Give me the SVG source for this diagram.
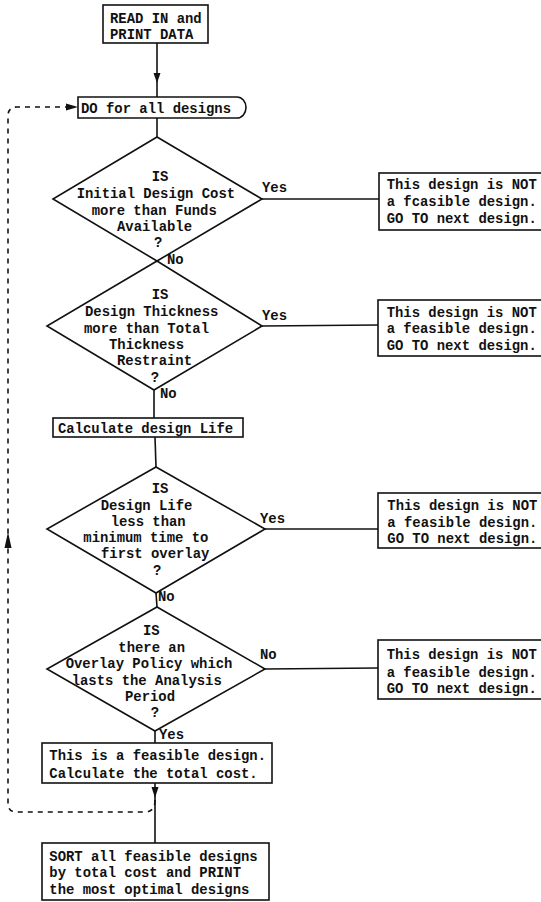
<svg xmlns="http://www.w3.org/2000/svg" width="541" height="902" viewBox="0 0 541 902">
<defs>
<style>
.s{fill:none;stroke:#111;stroke-width:1.6}
.b{fill:#fff;stroke:#111;stroke-width:1.6}
.d{fill:none;stroke:#111;stroke-width:1.6;stroke-dasharray:5 5}
.a{fill:#111;stroke:none}
text{font-family:"Liberation Mono","Courier New",monospace;font-size:13.9px;font-weight:bold;fill:#111}
</style>
</defs>
<rect width="541" height="902" fill="#fff"/>
<g id="connectors">
<line class="s" x1="157" y1="43" x2="157" y2="97"/>
<polygon class="a" points="157,83 153.5,73 160.5,73"/>
<line class="s" x1="157" y1="118" x2="157" y2="137"/>
<line class="s" x1="262" y1="199" x2="379" y2="199"/>
<line class="s" x1="262" y1="326" x2="378" y2="325"/>
<line class="s" x1="154" y1="390" x2="154" y2="418"/>
<line class="s" x1="155" y1="437" x2="156" y2="467"/>
<line class="s" x1="265" y1="529" x2="378" y2="529"/>
<line class="s" x1="156" y1="593" x2="157" y2="607"/>
<line class="s" x1="265" y1="669" x2="378" y2="668"/>
<line class="s" x1="155" y1="731" x2="155" y2="743"/>
<line class="s" x1="155" y1="783" x2="155" y2="843"/>
<polygon class="a" points="155,798 151.5,787 158.5,787"/>
<path class="d" d="M155,800 Q155,812 145,812 H16 Q8,812 8,803 V116 Q8,107 17,107 H70"/>
<polygon class="a" points="78,107 66,103.5 66,110.5"/>
<polygon class="a" points="8,532 4.5,548 11.5,548"/>
<text x="262" y="192">Yes</text>
<text x="167" y="264">No</text>
<text x="262" y="320">Yes</text>
<text x="160" y="398">No</text>
<text x="260" y="523">Yes</text>
<text x="158" y="601">No</text>
<text x="260" y="659">No</text>
<text x="159" y="739">Yes</text>
</g>
<g id="read">
<rect class="b" x="103" y="5" width="105" height="38"/>
<text x="110" y="23">READ IN and</text>
<text x="110" y="39">PRINT DATA</text>
</g>
<g id="loop">
<path class="b" d="M78,97 H237 A9,10.5 0 0 1 237,118 H78 Z"/>
<text x="81" y="113">DO for all designs</text>
</g>
<g id="q1">
<polygon class="b" points="157,137 262,199 157,261 53,199"/>
<text x="151.7" y="181">IS</text>
<text x="76.7" y="198">Initial Design Cost</text>
<text x="91.7" y="215">more than Funds</text>
<text x="117" y="231">Available</text>
<text x="154" y="247">?</text>
</g>
<g id="r1">
<rect class="b" x="379" y="173" width="170" height="57"/>
<text x="386.7" y="189">This design is NOT</text>
<text x="386.7" y="206">a fcasible design.</text>
<text x="386.7" y="223">GO TO next design.</text>
</g>
<g id="q2">
<polygon class="b" points="157,261 262,326 154,390 47,326"/>
<text x="151.7" y="299">IS</text>
<text x="85" y="316">Design Thickness</text>
<text x="84" y="333">more than Total</text>
<text x="109" y="349">Thickness</text>
<text x="117" y="365">Restraint</text>
<text x="150.7" y="382">?</text>
</g>
<g id="r2">
<rect class="b" x="378" y="300" width="170" height="56"/>
<text x="386.7" y="317">This design is NOT</text>
<text x="386.7" y="333">a feasible design.</text>
<text x="386.7" y="350">GO TO next design.</text>
</g>
<g id="calc">
<rect class="b" x="53" y="418" width="190" height="19"/>
<text x="58" y="433">Calculate design Life</text>
</g>
<g id="q3">
<polygon class="b" points="156,467 265,529 156,593 47,529"/>
<text x="151.7" y="493">IS</text>
<text x="100.7" y="510">Design Life</text>
<text x="110.7" y="526">less than</text>
<text x="83.3" y="542">minimum time to</text>
<text x="101" y="558">first overlay</text>
<text x="153" y="575">?</text>
</g>
<g id="r3">
<rect class="b" x="378" y="493" width="170" height="55"/>
<text x="387.3" y="510">This design is NOT</text>
<text x="387.3" y="527">a feasible design.</text>
<text x="387.3" y="543">GO TO next design.</text>
</g>
<g id="q4">
<polygon class="b" points="157,607 265,669 155,731 47,669"/>
<text x="143" y="635">IS</text>
<text x="118.3" y="652">there an</text>
<text x="65.7" y="668">Overlay Policy which</text>
<text x="71.7" y="685">lasts the Analysis</text>
<text x="125" y="701">Period</text>
<text x="150.7" y="717">?</text>
</g>
<g id="r4">
<rect class="b" x="378" y="640" width="170" height="59"/>
<text x="386.7" y="659">This design is NOT</text>
<text x="386.7" y="677">a feasible design.</text>
<text x="386.7" y="693">GO TO next design.</text>
</g>
<g id="feasible">
<rect class="b" x="42" y="743" width="230" height="40"/>
<text x="49.3" y="760">This is a feasible design.</text>
<text x="49.3" y="778">Calculate the total cost.</text>
</g>
<g id="sort">
<rect class="b" x="42" y="843" width="227" height="57"/>
<text x="49.3" y="861">SORT all feasible designs</text>
<text x="49.3" y="877">by total cost and PRINT</text>
<text x="49.3" y="894">the most optimal designs</text>
</g>
</svg>
